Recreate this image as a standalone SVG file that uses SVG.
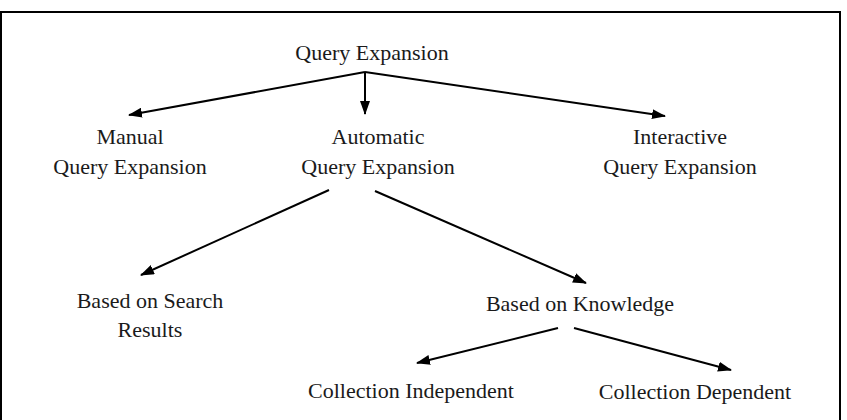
<svg xmlns="http://www.w3.org/2000/svg" width="847" height="420" viewBox="0 0 847 420">
<style>
text{font-family:"Liberation Serif","Times New Roman",serif;font-size:22px;fill:#1a1a1a;text-anchor:middle}
.c line{stroke:#000;stroke-width:2;marker-end:url(#ah)}
</style>
<defs>
<marker id="ah" viewBox="0 0 14 10" markerWidth="14" markerHeight="10" refX="13" refY="5" orient="auto" markerUnits="userSpaceOnUse">
<path d="M0,0 L14,5 L0,10 z" fill="#000"/>
</marker>
</defs>
<rect x="1" y="12" width="839" height="420" fill="#fff" stroke="#000" stroke-width="2"/>
<g id="n-root"><text x="372" y="60">Query Expansion</text></g>
<g id="n-manual"><text x="130" y="144">Manual</text><text x="130" y="174">Query Expansion</text></g>
<g id="n-auto"><text x="378" y="144">Automatic</text><text x="378" y="174">Query Expansion</text></g>
<g id="n-inter"><text x="680" y="144">Interactive</text><text x="680" y="174">Query Expansion</text></g>
<g id="n-search"><text x="150" y="308">Based on Search</text><text x="150" y="337">Results</text></g>
<g id="n-know"><text x="580" y="311">Based on Knowledge</text></g>
<g id="n-indep"><text x="411" y="398">Collection Independent</text></g>
<g id="n-dep"><text x="695" y="399">Collection Dependent</text></g>
<g class="c" id="connectors">
<line x1="365" y1="72" x2="129" y2="115"/>
<line x1="365" y1="72" x2="365" y2="114"/>
<line x1="365" y1="72" x2="665" y2="116"/>
<line x1="329" y1="190" x2="141" y2="275"/>
<line x1="375" y1="191" x2="586" y2="283"/>
<line x1="558" y1="328" x2="417" y2="363"/>
<line x1="574" y1="328" x2="731" y2="370"/>
</g>
</svg>
